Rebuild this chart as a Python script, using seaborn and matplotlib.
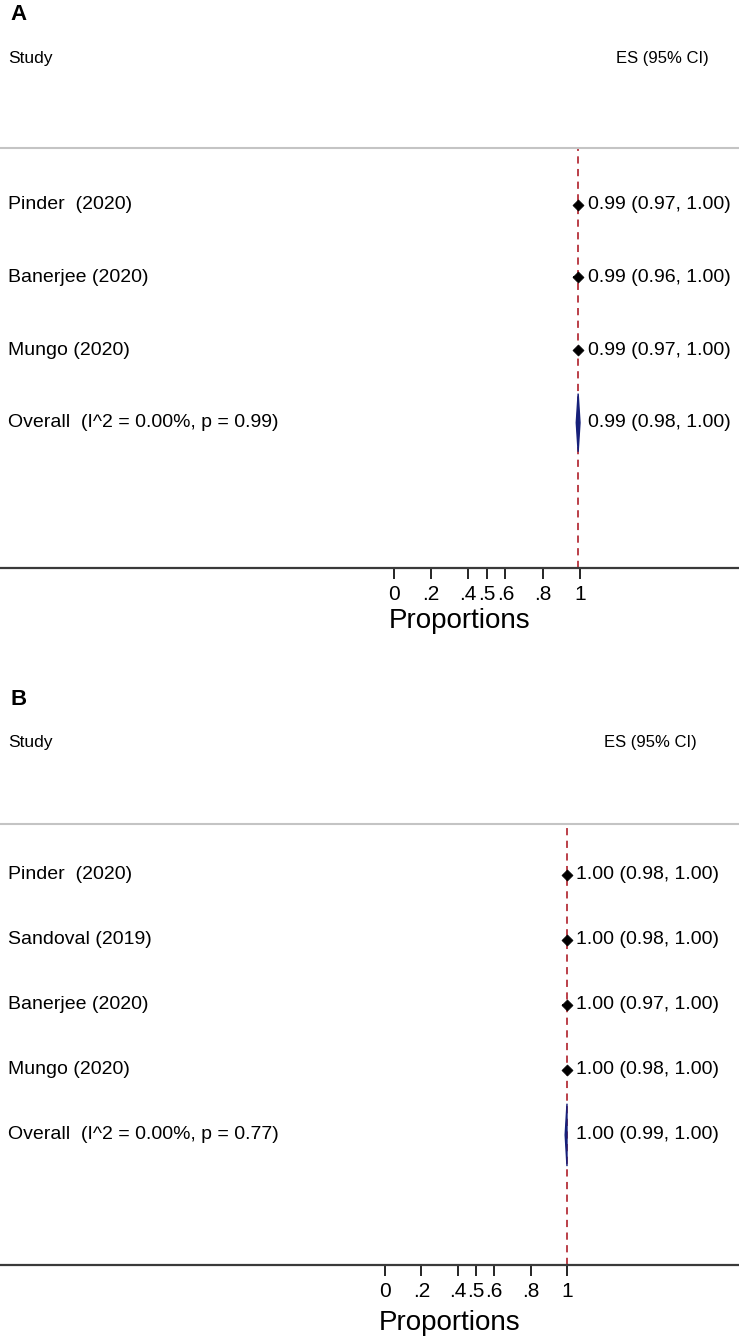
import pandas as pd
import matplotlib.pyplot as plt
import seaborn as sns
from matplotlib.patches import Polygon
from matplotlib.transforms import blended_transform_factory


# panel A data
studies_a = ['Pinder  (2020)', 'Banerjee (2020)', 'Mungo (2020)']
es_a = [0.99, 0.99, 0.99]
lo_a = [0.97, 0.96, 0.97]
hi_a = [1.00, 1.00, 1.00]
overall_a = [0.99, 0.98, 1.00]
overall_lab_a = 'Overall  (I^2 = 0.00%, p = 0.99)'

# panel B data
studies_b = ['Pinder  (2020)', 'Sandoval (2019)', 'Banerjee (2020)', 'Mungo (2020)']
es_b = [1.00, 1.00, 1.00, 1.00]
lo_b = [0.98, 0.98, 0.97, 0.98]
hi_b = [1.00, 1.00, 1.00, 1.00]
overall_b = [1.00, 0.99, 1.00]
overall_lab_b = 'Overall  (I^2 = 0.00%, p = 0.77)'

xticks = [0, .2, .4, .5, .6, .8, 1]
xticklabels = ['0', '.2', '.4', '.5', '.6', '.8', '1']

W, H = 739, 1340
RED = '#b5303a'
NAVY = '#16207a'

sns.set_theme(style='white')
plt.rcParams['font.family'] = ['Liberation Sans', 'DejaVu Sans']
plt.rcParams['text.color'] = 'black'
plt.rcParams['axes.labelcolor'] = 'black'
plt.rcParams['xtick.color'] = 'black'


def fy(py):
    return 1 - py / H


def ci_text(es, lo, hi):
    return f'{es:.2f} ({lo:.2f}, {hi:.2f})'


def draw_panel(fig, letter, studies, es, lo, hi, overall, overall_lab, lay):
    top, bottom = lay['top'], lay['bottom']
    ax = fig.add_axes([0, fy(bottom), 1, (bottom - top) / H])
    n = len(studies)
    df = pd.DataFrame({'study': studies, 'es': es, 'lo': lo, 'hi': hi,
                       'row': range(1, n + 1)})

    ax.axvline(overall[0], color=RED, ls=(0, (4, 3)), lw=1.3, zorder=1)
    ax.hlines(df['row'], df['lo'], df['hi'], color='black', lw=1.2, zorder=2)
    sns.scatterplot(data=df, x='es', y='row', marker='D', color='black',
                    edgecolor='black', s=32, ax=ax, legend=False, zorder=3)

    yo = n + 1
    h = lay['dh']
    ax.add_patch(Polygon([(overall[1], yo), (overall[0], yo - h),
                          (overall[2], yo), (overall[0], yo + h)],
                         closed=True, facecolor=NAVY, edgecolor=NAVY, lw=1, zorder=3))

    x0, sc = lay['x0'], lay['scale']
    ax.set_xlim(-x0 / sc, (W - x0) / sc)
    ax.set_ylim(n + 3, 0.22)

    tr = blended_transform_factory(ax.transAxes, ax.transData)
    labels = list(studies) + [overall_lab]
    vals = [ci_text(*t) for t in zip(es, lo, hi)] + [ci_text(*overall)]
    for i, (lab, v) in enumerate(zip(labels, vals), start=1):
        ax.text(8 / W, i, lab, transform=tr, va='center', ha='left', fontsize=14)
        ax.text(lay['num_x'] / W, i, v, transform=tr, va='center', ha='left', fontsize=14)

    ax.set_xticks(xticks)
    ax.set_xticklabels(xticklabels)
    ax.set_yticks([])
    ax.set_xlabel('Proportions', fontsize=20, va='center')
    ax.xaxis.set_label_coords(lay['prop_x'] / W, -(lay['prop_y'] - bottom) / (bottom - top))
    ax.set_ylabel('')
    ax.tick_params(axis='x', direction='out', length=8, width=1.2, color='black',
                   labelsize=15, pad=4, bottom=True)
    for s in ['left', 'right']:
        ax.spines[s].set_visible(False)
    ax.spines['top'].set_color('#c4c4c4')
    ax.spines['top'].set_linewidth(1.5)
    ax.spines['bottom'].set_color('#3a3a3a')
    ax.spines['bottom'].set_linewidth(1.6)
    ax.patch.set_alpha(0)

    fig.text(10 / W, fy(lay['letter_y']), letter, fontsize=16, fontweight='bold', va='center')
    fig.text(8 / W, fy(lay['head_y']), 'Study', fontsize=12.5, va='center')
    fig.text(lay['es_x'] / W, fy(lay['head_y']), 'ES (95% CI)', fontsize=12, va='center')
    return ax


lay_a = dict(top=148, bottom=568, x0=393.5, scale=186.5, dh=0.4,
             letter_y=14, head_y=58, num_x=588, es_x=616, prop_x=460, prop_y=621)
lay_b = dict(top=824, bottom=1265, x0=385, scale=182, dh=0.48,
             letter_y=700, head_y=743, num_x=576, es_x=604, prop_x=450, prop_y=1323)

fig = plt.figure(figsize=(W / 100, H / 100), dpi=100)
draw_panel(fig, 'A', studies_a, es_a, lo_a, hi_a, overall_a, overall_lab_a, lay_a)
draw_panel(fig, 'B', studies_b, es_b, lo_b, hi_b, overall_b, overall_lab_b, lay_b)

fig.savefig('out.png', dpi=100)
